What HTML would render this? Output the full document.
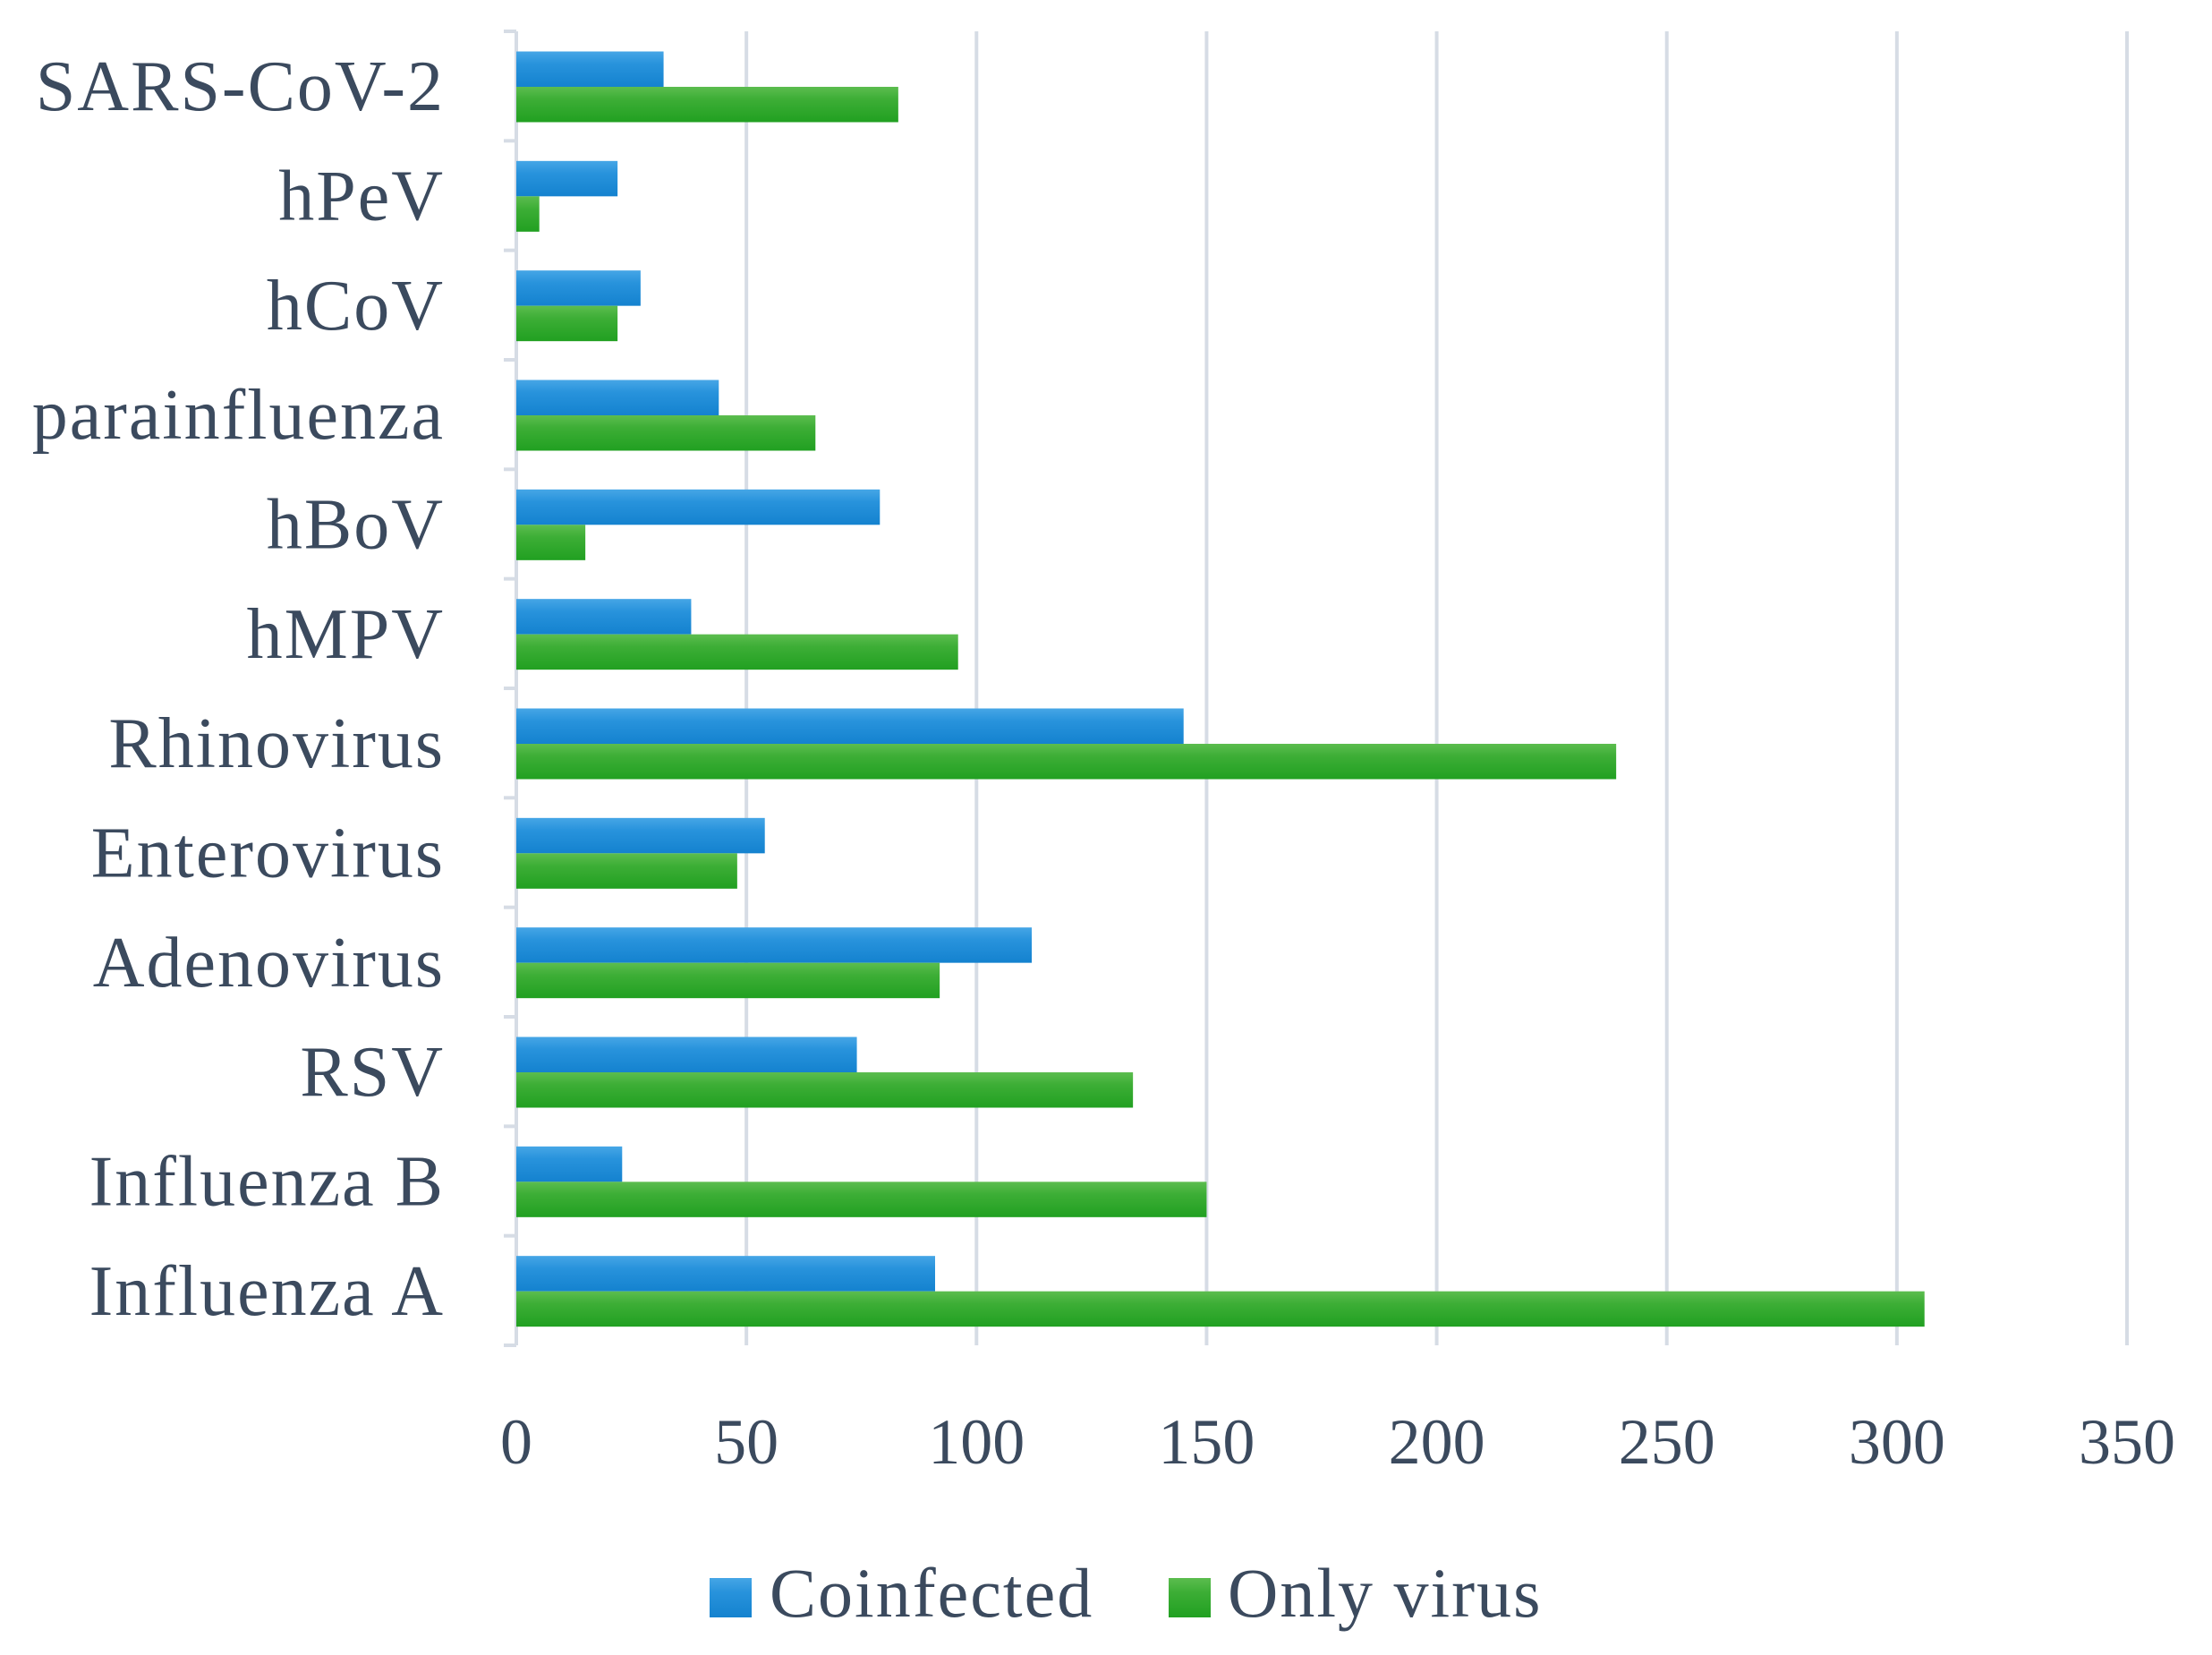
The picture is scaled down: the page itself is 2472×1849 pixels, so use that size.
<!DOCTYPE html>
<html><head><meta charset="utf-8"><style>
html,body{margin:0;padding:0;background:#fff;}
svg{display:block;font-family:"Liberation Serif",serif;}
</style></head><body>
<svg id="chart" width="2472" height="1849" viewBox="0 0 2472 1849" xmlns="http://www.w3.org/2000/svg">
<defs>
<linearGradient id="gb" x1="0" y1="0" x2="0" y2="1"><stop offset="0" stop-color="#46a6e6"/><stop offset="0.35" stop-color="#2893dc"/><stop offset="1" stop-color="#1482cf"/></linearGradient>
<linearGradient id="gg" x1="0" y1="0" x2="0" y2="1"><stop offset="0" stop-color="#5cbd4f"/><stop offset="0.35" stop-color="#3dae36"/><stop offset="1" stop-color="#21a021"/></linearGradient>
</defs>
<g id="grid"></g>
<g id="bars"></g>
<g id="ylabels"></g>
<g id="xlabels"></g>
<g>
  <rect x="793" y="1763" width="47" height="44" fill="url(#gb)"/>
  <text x="860" y="1806" font-size="78" letter-spacing="2" fill="#3b4a5e">Coinfected</text>
  <rect x="1306" y="1763" width="47" height="44" fill="url(#gg)"/>
  <text x="1372" y="1806" font-size="78" letter-spacing="2" fill="#3b4a5e">Only virus</text>
</g>
</svg>
<script>
const categories = ["SARS-CoV-2","hPeV","hCoV","parainfluenza","hBoV","hMPV","Rhinovirus","Enterovirus","Adenovirus","RSV","Influenza B","Influenza A"];
const coinfected = [32,22,27,44,79,38,145,54,112,74,23,91];
const onlyVirus = [83,5,22,65,15,96,239,48,92,134,150,306];
const xTicks = [0,50,100,150,200,250,300,350];

const NS = "http://www.w3.org/2000/svg";
const X0 = 577, X1 = 2377, XMAX = 350, YT = 35, YB = 1503;
const band = (YB - YT) / categories.length;
const xs = v => X0 + (X1 - X0) * v / XMAX;
const yb = i => YT + band * i;
function mk(tag, attrs, parent){const e=document.createElementNS(NS,tag);for(const k in attrs)e.setAttribute(k,attrs[k]);parent.appendChild(e);return e;}

const grid = document.getElementById('grid');
xTicks.forEach((t,i)=>{
  if(t===0) return;
  const l = mk('line',{x1:xs(t),x2:xs(t),y1:YT,y2:YB,stroke:'#d6dce5','stroke-width':4},grid);
  
  
});
const ax = mk('line',{x1:X0,x2:X0,y1:YT,y2:YB,stroke:'#d6dce5','stroke-width':4},grid);


for(let i=0;i<=categories.length;i++){
  const tk = mk('line',{x1:X0-14,x2:X0,y1:yb(i),y2:yb(i),stroke:'#d6dce5','stroke-width':4},grid);
  
  
}

const bars = document.getElementById('bars');
const ylab = document.getElementById('ylabels');
const bh = 39.5, off = 22.5;
categories.forEach((c,i)=>{
  const top = yb(i) + off;
  const r1 = mk('rect',{x:X0,y:top,width:xs(coinfected[i])-X0,height:bh,fill:'url(#gb)'},bars);
  
  
  const r2 = mk('rect',{x:X0,y:top+bh,width:xs(onlyVirus[i])-X0,height:bh,fill:'url(#gg)'},bars);
  
  
  const t = mk('text',{x:497,y:yb(i)+band/2+27,'text-anchor':'end','font-size':80,'letter-spacing':2,fill:'#3b4a5e'},ylab);
  t.textContent = c;
  
  
});

const xl = document.getElementById('xlabels');
xTicks.forEach(t=>{
  const e = mk('text',{x:xs(t),y:1635,'text-anchor':'middle','font-size':72,fill:'#3b4a5e'},xl);
  e.textContent = t;
  
  
});
</script>
</body></html>
